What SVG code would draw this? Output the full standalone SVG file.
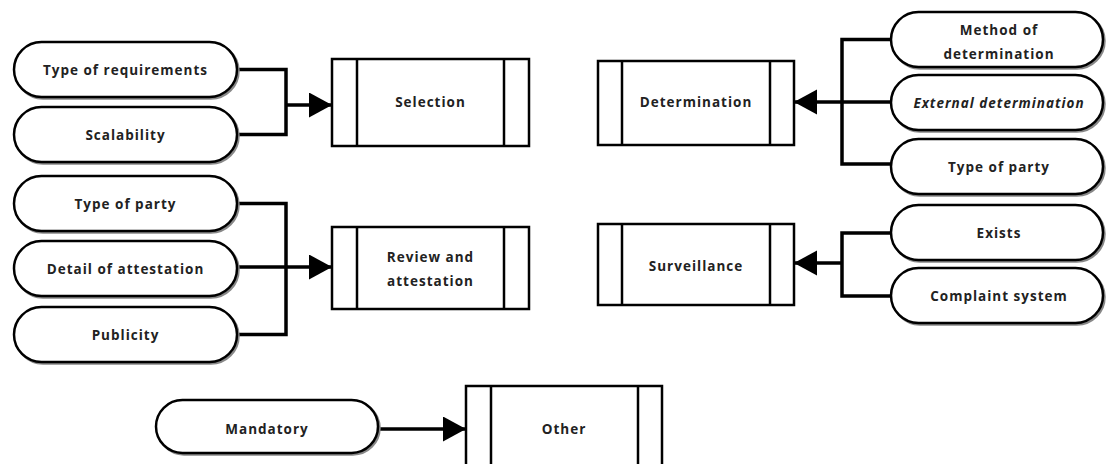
<svg xmlns="http://www.w3.org/2000/svg" width="1109" height="464" viewBox="0 0 1109 464">
<style>
.bg{fill:#fff}
.pill{fill:#fff;stroke:#000;stroke-width:2.5}
.pshadow{fill:none;stroke:#888;stroke-width:2.5}
.box{fill:#fff;stroke:#000;stroke-width:2.5}
.bline{stroke:#000;stroke-width:2.5}
.conn{fill:none;stroke:#000;stroke-width:3.5}
text{font-family:"Open Sans","Liberation Sans",sans-serif;font-weight:700;font-size:13.5px;letter-spacing:1px;fill:#222;text-anchor:middle;dominant-baseline:central}
.it{font-style:italic}
</style>
<defs>
<marker id="arr" markerUnits="userSpaceOnUse" markerWidth="24" markerHeight="26" refX="23" refY="12.5" orient="auto">
<path d="M0,0 L23,12.5 L0,25 Z" fill="#000"/>
</marker>
</defs>
<rect class="bg" x="0" y="0" width="1109" height="464"/>

<g id="connectors">
<path class="conn" d="M237,69.5 H286 V134.5 H237"/>
<path class="conn" d="M286,105 H332" marker-end="url(#arr)"/>
<path class="conn" d="M891,39.5 H842 V164 H891"/>
<path class="conn" d="M891,102 H794" marker-end="url(#arr)"/>
<path class="conn" d="M237,203.5 H286 V334.5 H237"/>
<path class="conn" d="M237,267 H332" marker-end="url(#arr)"/>
<path class="conn" d="M891,233 H842 V296 H891"/>
<path class="conn" d="M842,263 H794" marker-end="url(#arr)"/>
<path class="conn" d="M378,429 H466" marker-end="url(#arr)"/>
</g>

<g id="selection">
<rect class="box" x="332" y="59" width="197" height="87"/>
<line class="bline" x1="357" y1="59" x2="357" y2="146"/>
<line class="bline" x1="504" y1="59" x2="504" y2="146"/>
<text x="430.5" y="102">Selection</text>
</g>
<g id="determination">
<rect class="box" x="598" y="61" width="196" height="84"/>
<line class="bline" x1="622" y1="61" x2="622" y2="145"/>
<line class="bline" x1="770" y1="61" x2="770" y2="145"/>
<text x="696" y="102">Determination</text>
</g>
<g id="review">
<rect class="box" x="332" y="227" width="197" height="82"/>
<line class="bline" x1="357" y1="227" x2="357" y2="309"/>
<line class="bline" x1="504" y1="227" x2="504" y2="309"/>
<text x="430.5" y="257">Review and</text>
<text x="430.5" y="281">attestation</text>
</g>
<g id="surveillance">
<rect class="box" x="598" y="224" width="196" height="81"/>
<line class="bline" x1="622" y1="224" x2="622" y2="305"/>
<line class="bline" x1="770" y1="224" x2="770" y2="305"/>
<text x="696" y="266">Surveillance</text>
</g>
<g id="other">
<rect class="box" x="466" y="386" width="196" height="86"/>
<line class="bline" x1="491" y1="386" x2="491" y2="472"/>
<line class="bline" x1="638" y1="386" x2="638" y2="472"/>
<text x="564" y="429">Other</text>
</g>

<g id="type-of-requirements">
<rect class="pshadow" x="15.5" y="43.5" width="223" height="55" rx="27.5"/>
<rect class="pill" x="14" y="42" width="223" height="55" rx="27.5"/>
<text x="125.5" y="70">Type of requirements</text>
</g>
<g id="scalability">
<rect class="pshadow" x="15.5" y="108.5" width="223" height="55" rx="27.5"/>
<rect class="pill" x="14" y="107" width="223" height="55" rx="27.5"/>
<text x="125.5" y="135">Scalability</text>
</g>
<g id="method-of-determination">
<rect class="pshadow" x="892.5" y="13.5" width="212" height="55" rx="27.5"/>
<rect class="pill" x="891" y="12" width="212" height="55" rx="27.5"/>
<text x="999" y="30">Method of</text>
<text x="999" y="54">determination</text>
</g>
<g id="external-determination">
<rect class="pshadow" x="892.5" y="76.5" width="212" height="55" rx="27.5"/>
<rect class="pill" x="891" y="75" width="212" height="55" rx="27.5"/>
<text class="it" x="999" y="102.5">External determination</text>
</g>
<g id="type-of-party-right">
<rect class="pshadow" x="892.5" y="140.5" width="212" height="55" rx="27.5"/>
<rect class="pill" x="891" y="139" width="212" height="55" rx="27.5"/>
<text x="999" y="166.5">Type of party</text>
</g>
<g id="type-of-party-left">
<rect class="pshadow" x="15.5" y="177.5" width="223" height="55" rx="27.5"/>
<rect class="pill" x="14" y="176" width="223" height="55" rx="27.5"/>
<text x="125.5" y="203.5">Type of party</text>
</g>
<g id="detail-of-attestation">
<rect class="pshadow" x="15.5" y="242.5" width="223" height="55" rx="27.5"/>
<rect class="pill" x="14" y="241" width="223" height="55" rx="27.5"/>
<text x="125.5" y="268.5">Detail of attestation</text>
</g>
<g id="publicity">
<rect class="pshadow" x="15.5" y="308.5" width="223" height="55" rx="27.5"/>
<rect class="pill" x="14" y="307" width="223" height="55" rx="27.5"/>
<text x="125.5" y="334.5">Publicity</text>
</g>
<g id="exists">
<rect class="pshadow" x="892.5" y="206.5" width="212" height="55" rx="27.5"/>
<rect class="pill" x="891" y="205" width="212" height="55" rx="27.5"/>
<text x="999" y="233">Exists</text>
</g>
<g id="complaint-system">
<rect class="pshadow" x="892.5" y="269.5" width="212" height="55" rx="27.5"/>
<rect class="pill" x="891" y="268" width="212" height="55" rx="27.5"/>
<text x="999" y="296">Complaint system</text>
</g>
<g id="mandatory">
<rect class="pshadow" x="157.5" y="401.5" width="222" height="53" rx="26.5"/>
<rect class="pill" x="156" y="400" width="222" height="53" rx="26.5"/>
<text x="267" y="429">Mandatory</text>
</g>
</svg>
